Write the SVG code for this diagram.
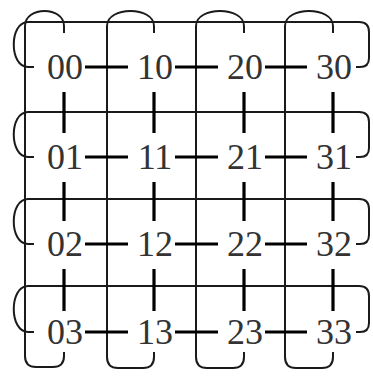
<svg xmlns="http://www.w3.org/2000/svg" width="373" height="376" viewBox="0 0 373 376">
<style>
.wrap{fill:none;stroke:#1a1a1a;stroke-width:2}
.link{fill:none;stroke:#000;stroke-width:3.2}
.lbl{font-family:"Liberation Serif","Times New Roman",serif;font-size:36px;fill:#333;text-anchor:middle}
</style>
<rect width="373" height="376" fill="#fff"/>
<g id="connectors">
<!-- column wraparound -->
<path class="wrap" d="M64 33 V26 C64 6 25 6 25 26 V356 Q25 367 36 367 H53 Q64 367 64 356 V352"/>
<path class="wrap" d="M154 33 V26 C154 6 107 6 107 26 V357 Q107 368 118 368 H143 Q154 368 154 357 V352"/>
<path class="wrap" d="M244 33 V26 C244 6 196 6 196 26 V357 Q196 368 207 368 H233 Q244 368 244 357 V352"/>
<path class="wrap" d="M333 33 V26 C333 6 285 6 285 26 V357 Q285 368 296 368 H322 Q333 368 333 357 V352"/>
<!-- row wraparound -->
<path class="wrap" d="M34 67 H28 C9 67 9 22 28 22 H359 Q369 22 369 32 V58 Q369 67 360 67 H356"/>
<path class="wrap" d="M34 157 H28 C9 157 9 112 28 112 H359 Q369 112 369 122 V148 Q369 157 360 157 H356"/>
<path class="wrap" d="M34 244 H28 C9 244 9 199 28 199 H359 Q369 199 369 209 V235 Q369 244 360 244 H356"/>
<path class="wrap" d="M34 332 H28 C9 332 9 286 28 286 H359 Q369 286 369 296 V323 Q369 332 360 332 H356"/>
<!-- horizontal links -->
<path class="link" d="M85 67 H128 M175 67 H218 M265 67 H307 M85 157 H128 M175 157 H218 M265 157 H307 M85 244 H128 M175 244 H218 M265 244 H307 M85 332 H128 M175 332 H218 M265 332 H307"/>
<!-- vertical links -->
<path class="link" d="M64 92 V133 M154 92 V133 M244 92 V133 M333 92 V133 M64 182 V221 M154 182 V221 M244 182 V221 M333 182 V221 M64 269 V311 M154 269 V311 M244 269 V311 M333 269 V311"/>
</g>
<g id="n00"><text class="lbl" x="65" y="79">00</text></g>
<g id="n10"><text class="lbl" x="155" y="79">10</text></g>
<g id="n20"><text class="lbl" x="245" y="79">20</text></g>
<g id="n30"><text class="lbl" x="334" y="79">30</text></g>
<g id="n01"><text class="lbl" x="65" y="169">01</text></g>
<g id="n11"><text class="lbl" x="155" y="169">11</text></g>
<g id="n21"><text class="lbl" x="245" y="169">21</text></g>
<g id="n31"><text class="lbl" x="334" y="169">31</text></g>
<g id="n02"><text class="lbl" x="65" y="256">02</text></g>
<g id="n12"><text class="lbl" x="155" y="256">12</text></g>
<g id="n22"><text class="lbl" x="245" y="256">22</text></g>
<g id="n32"><text class="lbl" x="334" y="256">32</text></g>
<g id="n03"><text class="lbl" x="65" y="344">03</text></g>
<g id="n13"><text class="lbl" x="155" y="344">13</text></g>
<g id="n23"><text class="lbl" x="245" y="344">23</text></g>
<g id="n33"><text class="lbl" x="334" y="344">33</text></g>
</svg>
